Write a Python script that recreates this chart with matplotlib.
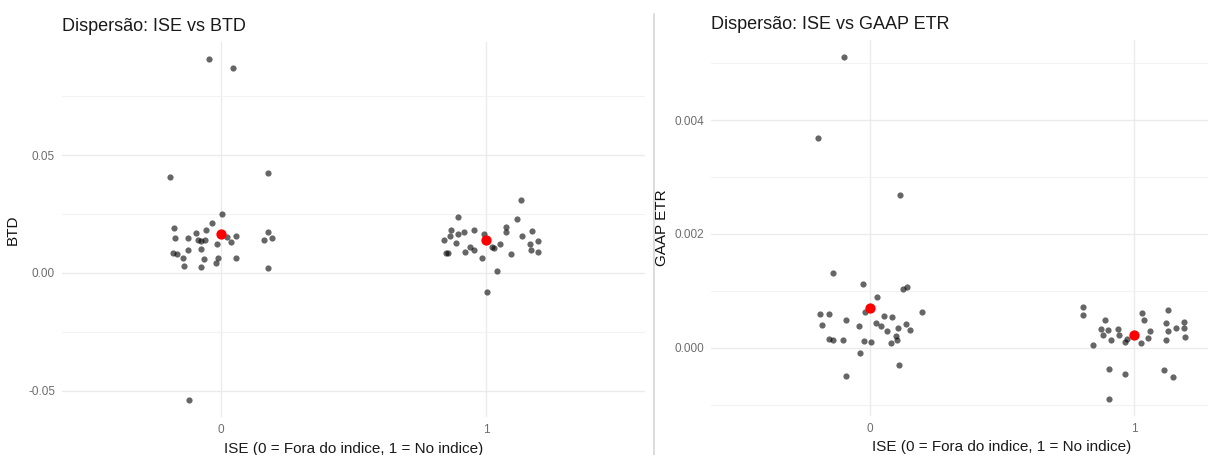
import numpy as np
import matplotlib
matplotlib.use("Agg")
import matplotlib.pyplot as plt
from matplotlib.ticker import FixedLocator, MultipleLocator
from matplotlib.lines import Line2D

plt.rcParams['font.family'] = ['Liberation Sans', 'DejaVu Sans']

# ---- data (x values include the jitter) ----
btd_x0 = [-0.047, 0.047, -0.194, 0.179, 0.003, -0.033, -0.058, -0.179, -0.175, -0.125,
          -0.096, -0.087, -0.077, -0.062, -0.016, 0.058, 0.036, 0.163, 0.179, 0.191,
          -0.182, -0.166, -0.144, -0.125, -0.077, -0.065, -0.011, 0.055, -0.139, -0.077,
          -0.019, 0.179, -0.122, 0.021]
btd_y0 = [0.0908, 0.0870, 0.0407, 0.0425, 0.0251, 0.0212, 0.0181, 0.0189, 0.0150, 0.0147,
          0.0169, 0.0141, 0.0136, 0.0138, 0.0124, 0.0158, 0.0133, 0.0141, 0.0172, 0.0150,
          0.0085, 0.0082, 0.0065, 0.0099, 0.0102, 0.0059, 0.0062, 0.0062, 0.0031, 0.0025,
          0.0042, 0.0021, -0.0540, 0.0153]
btd_x1 = [1.133, 0.893, 1.117, 0.869, 0.916, 0.953, 0.893, 0.866, 0.840, 0.886,
          0.940, 0.956, 0.921, 0.855, 0.848, 0.984, 0.991, 1.022, 1.032, 1.051,
          1.074, 1.077, 1.136, 1.172, 1.167, 1.197, 1.169, 1.197, 1.095, 1.041, 1.003]
btd_y1 = [0.0311, 0.0237, 0.0227, 0.0181, 0.0174, 0.0181, 0.0167, 0.0155, 0.0141, 0.0127,
          0.0110, 0.0099, 0.0088, 0.0085, 0.0085, 0.0064, 0.0167, 0.0110, 0.0107, 0.0124,
          0.0195, 0.0174, 0.0155, 0.0177, 0.0124, 0.0134, 0.0096, 0.0088, 0.0079, 0.0007, -0.0081]
btd_mean = [0.0164, 0.0138]

gaap_x0 = [-0.096, -0.197, 0.116, -0.140, -0.026, 0.124, 0.142, 0.027, -0.016, -0.189,
           -0.155, 0.199, -0.181, -0.088, -0.040, 0.023, 0.054, 0.086, 0.043, 0.065,
           0.108, 0.139, 0.152, -0.155, -0.137, -0.102, -0.022, 0.004, 0.081, 0.101,
           0.104, -0.036, 0.111, -0.088]
gaap_y0 = [0.00511, 0.00369, 0.00269, 0.00131, 0.00112, 0.00104, 0.00106, 0.00089, 0.00063, 0.00060,
           0.00059, 0.00063, 0.00040, 0.00049, 0.00039, 0.00043, 0.00055, 0.00054, 0.00039, 0.00030,
           0.00035, 0.00041, 0.00032, 0.00015, 0.00013, 0.00014, 0.00012, 0.00010, 0.00009, 0.00020,
           0.00013, -0.00009, -0.00030, -0.00049]
gaap_x1 = [0.807, 0.807, 0.845, 0.888, 0.876, 0.899, 0.880, 0.911, 0.937, 0.943,
           0.964, 0.974, 1.026, 1.031, 1.035, 1.058, 1.051, 1.128, 1.121, 1.129,
           1.119, 1.159, 1.189, 1.189, 1.193, 0.904, 0.964, 1.112, 1.146, 0.903]
gaap_y1 = [0.00072, 0.00058, 0.00004, 0.00049, 0.00033, 0.00032, 0.00023, 0.00013, 0.00033, 0.00022,
           0.00010, 0.00016, 0.00009, 0.00061, 0.00049, 0.00029, 0.00017, 0.00066, 0.00043, 0.00029,
           0.00014, 0.00035, 0.00045, 0.00035, 0.00019, -0.00037, -0.00046, -0.00040, -0.00052, -0.00090]
gaap_mean = [0.00069, 0.00022]

groups = [0, 1]
btd_ticks = [-0.05, 0.00, 0.05]
btd_ticklabels = ["-0.05", "0.00", "0.05"]
gaap_ticks = [0.000, 0.002, 0.004]
gaap_ticklabels = ["0.000", "0.002", "0.004"]
xlabel = "ISE (0 = Fora do indice, 1 = No indice)"

W, H = 1208, 455
fig = plt.figure(figsize=(W / 100, H / 100), dpi=100)


def panel(ax, x0, y0, x1, y1, means, yticks, yticklabels, minor, title, ylabel):
   ax.set_facecolor("white")
   for s in ax.spines.values():
      s.set_visible(False)

   ax.scatter(x0 + x1, y0 + y1, s=20, color="black", alpha=0.6, linewidths=0, zorder=3)
   ax.scatter(groups, means, s=55, color="red", linewidths=0, zorder=4)

   ## ggplot style 5% expansion of the data range
   ally = y0 + y1
   lo, hi = min(ally), max(ally)
   pad = 0.05 * (hi - lo)
   ax.set_ylim(lo - pad, hi + pad)
   ax.set_xlim(-0.6, 1.6)

   ax.xaxis.set_major_locator(FixedLocator(groups))
   ax.set_xticklabels([str(g) for g in groups])
   ax.set_yticks(yticks)
   ax.set_yticklabels(yticklabels)
   ax.yaxis.set_minor_locator(MultipleLocator(minor))

   ax.grid(True, which="major", color="#ebebeb", lw=1.0, zorder=0)
   ax.grid(True, which="minor", axis="y", color="#f2f2f2", lw=0.8, zorder=0)
   ax.tick_params(which="both", length=0, labelsize=8.5, labelcolor="#6e6e6e", pad=5)

   ax.set_title(title, loc="left", fontsize=13, color="#1a1a1a", pad=8)
   ax.set_xlabel(xlabel, fontsize=11, color="#1a1a1a", labelpad=4)
   ax.set_ylabel(ylabel, fontsize=11, color="#111111")
   ax.yaxis.set_label_coords(-0.072, 0.5)


ax1 = fig.add_axes([62 / W, 1 - 417 / H, (645 - 62) / W, (417 - 42) / H])
panel(ax1, btd_x0, btd_y0, btd_x1, btd_y1, btd_mean,
      btd_ticks, btd_ticklabels, 0.025, "Dispersão: ISE vs BTD", "BTD")

# right panel runs past the image edge, as in the reference
ax2 = fig.add_axes([711 / W, 1 - 416 / H, (1293 - 711) / W, (416 - 40) / H])
panel(ax2, gaap_x0, gaap_y0, gaap_x1, gaap_y1, gaap_mean,
      gaap_ticks, gaap_ticklabels, 0.001, "Dispersão: ISE vs GAAP ETR", "GAAP ETR")

# thin separator between the two pictures
fig.add_artist(Line2D([654 / W, 654 / W], [0, 1 - 14 / H], color="#d6d6d6", lw=1.2))

fig.savefig("out.png", dpi=100)
